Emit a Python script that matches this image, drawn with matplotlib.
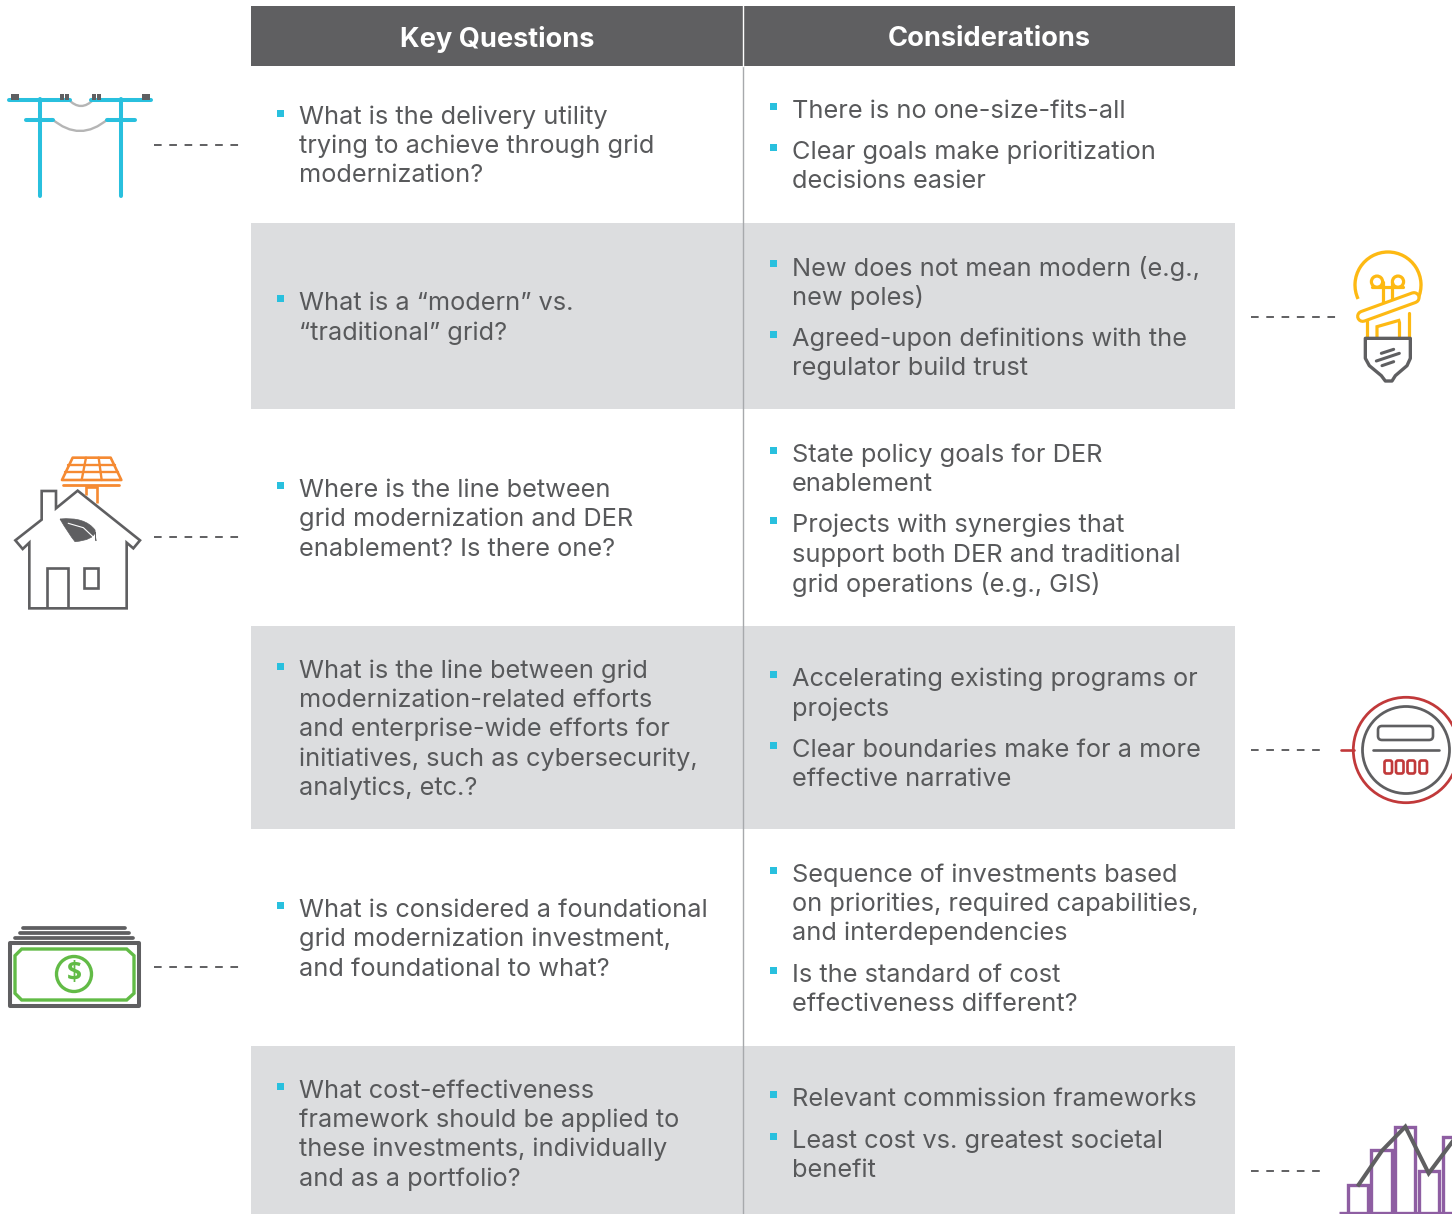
"""Grid modernization questions table, drawn in image pixel coordinates."""
import matplotlib

matplotlib.use("Agg")
import matplotlib.pyplot as plt
from matplotlib.patches import Arc, Circle, FancyBboxPatch, PathPatch, Polygon, Rectangle
from matplotlib.path import Path

plt.rcParams["font.family"] = ["Inter", "DejaVu Sans"]

WIDTH, HEIGHT = 1452, 1214
TEXT = "#58595b"
DARK = "#5f5f61"
BAND = "#dcdddf"
BLUE = "#29c0de"
FONT_SIZE = 18.25

headers = ["Key Questions", "Considerations"]

# (bullet y, [(line y, line text), ...])
key_questions = [
    (113, [(115, "What is the delivery utility"), (144, "trying to achieve through grid"), (173, "modernization?")]),
    (298, [(301, "What is a “modern” vs."), (331, "“traditional” grid?")]),
    (485, [(488, "Where is the line between"), (517, "grid modernization and DER"), (547, "enablement? Is there one?")]),
    (666, [(669, "What is the line between grid"), (698, "modernization-related efforts"),
           (727, "and enterprise-wide efforts for"), (757, "initiatives, such as cybersecurity,"),
           (786, "analytics, etc.?")]),
    (905, [(908, "What is considered a foundational"), (937, "grid modernization investment,"),
           (967, "and foundational to what?")]),
    (1086, [(1089, "What cost-effectiveness"), (1118, "framework should be applied to"),
            (1147, "these investments, individually"), (1177, "and as a portfolio?")]),
]

considerations = [
    (106, [(109, "There is no one-size-fits-all")]),
    (147, [(150, "Clear goals make prioritization"), (179, "decisions easier")]),
    (263, [(266, "New does not mean modern (e.g.,"), (295, "new poles)")]),
    (334, [(337, "Agreed-upon definitions with the"), (366, "regulator build trust")]),
    (450, [(453, "State policy goals for DER"), (482, "enablement")]),
    (520, [(523, "Projects with synergies that"), (553, "support both DER and traditional"),
           (582, "grid operations (e.g., GIS)")]),
    (674, [(677, "Accelerating existing programs or"), (707, "projects")]),
    (745, [(748, "Clear boundaries make for a more"), (777, "effective narrative")]),
    (870, [(873, "Sequence of investments based"), (902, "on priorities, required capabilities,"),
           (931, "and interdependencies")]),
    (970, [(973, "Is the standard of cost"), (1002, "effectiveness different?")]),
    (1094, [(1097, "Relevant commission frameworks")]),
    (1136, [(1139, "Least cost vs. greatest societal"), (1168, "benefit")]),
]

grey_bands = [(223, 409), (626, 829), (1046, 1214)]
left_dashes = [145, 537, 967]
# (y, right end of the dashed run)
right_dashes = [(317, 1336), (750, 1322), (1171, 1325)]


def line(ax, xs, ys, color, lw=2.2, z=4, cap="round"):
    ax.plot(xs, ys, color=color, lw=lw, zorder=z, solid_capstyle=cap, solid_joinstyle="miter")


def zoomed(points, ox, oy):
    return [(ox + x / 3, oy + y / 3) for x, y in points]


def zoomed_line(ax, a, b, ox, oy, color, lw, z=4):
    (x0, y0), (x1, y1) = zoomed([a, b], ox, oy)
    line(ax, [x0, x1], [y0, y1], color, lw, z)


def outline(ax, points, color, lw=2.2, closed=True, z=4, join="miter"):
    ax.add_patch(Polygon(points, closed=closed, fill=False, edgecolor=color, lw=lw, zorder=z, joinstyle=join))


def sag(ax, x0, x1, y, control_y, color, lw):
    path = Path([(x0, y), ((x0 + x1) / 2, control_y), (x1, y)], [Path.MOVETO, Path.CURVE3, Path.CURVE3])
    ax.add_patch(PathPatch(path, fill=False, edgecolor=color, lw=lw, zorder=3, capstyle="round"))


def draw_pole(ax):
    for x0, x1, y in [(9, 70, 99.5), (91, 151, 99.5), (26, 53, 119.5), (107, 135, 119.5)]:
        line(ax, [x0, x1], [y, y], BLUE, 2.9)
    for x in (39.5, 121):
        line(ax, [x, x], [99, 196], BLUE, 2.9)
    for x0, w in [(11, 8), (60, 4), (65, 4), (92, 4), (97, 4), (142, 8)]:
        ax.add_patch(Rectangle((x0, 94), w, 6, color=DARK, lw=0, zorder=5))
    sag(ax, 68, 94, 99, 113, "#b5b5b5", 1.7)
    sag(ax, 52, 108, 119, 143, "#b5b5b5", 1.7)


def draw_house(ax):
    ox, oy = 0, 445
    orange = "#f58a32"
    house = [(88, 490), (88, 293), (68, 312), (46, 286), (125, 224), (125, 138), (168, 138), (168, 190),
             (233, 137), (420, 286), (400, 310), (380, 293), (380, 490)]
    outline(ax, zoomed(house, ox, oy), DARK, 1.9)
    outline(ax, zoomed([(140, 490), (140, 368), (203, 368), (203, 490)], ox, oy), DARK, 1.9, closed=False)
    outline(ax, zoomed([(252, 368), (293, 368), (293, 430), (252, 430)], ox, oy), DARK, 1.9)
    outline(ax, zoomed([(218, 38), (332, 38), (364, 105), (186, 105)], ox, oy), orange, 1.9, join="round")
    for a, b in [((205, 60), (345, 60)), ((195, 82), (355, 82)), ((258, 38), (245, 105)), ((296, 38), (305, 105))]:
        zoomed_line(ax, a, b, ox, oy, orange, 1.7)
    zoomed_line(ax, (190, 120), (358, 120), ox, oy, orange, 2.0)
    outline(ax, zoomed([(258, 150), (258, 125), (290, 125), (290, 175)], ox, oy), orange, 1.9, closed=False)
    verts = zoomed([(180, 222), (255, 215), (285, 255), (288, 288), (285, 262), (280, 285), (225, 290),
                    (205, 265), (180, 222)], ox, oy)
    codes = [Path.MOVETO, Path.CURVE3, Path.CURVE3, Path.LINETO, Path.LINETO, Path.CURVE3, Path.CURVE3,
             Path.CURVE3, Path.CURVE3]
    ax.add_patch(PathPatch(Path(verts, codes), facecolor=DARK, edgecolor=DARK, lw=0.5, zorder=5))
    stem = zoomed([(205, 235), (250, 248), (282, 278)], ox, oy)
    ax.plot(*zip(*stem), color="white", lw=0.8, zorder=6)


def draw_money(ax):
    ox, oy = 0, 915
    green = "#62bb46"
    outline(ax, zoomed([(30, 85), (416, 85), (416, 272), (30, 272)], ox, oy), DARK, 2.9, join="round")
    for y, x0, x1 in [(70, 46, 400), (55, 60, 388), (38, 70, 376)]:
        line(ax, [x0 / 3, x1 / 3], [oy + y / 3, oy + y / 3], DARK, 2.7)
    note = [(65, 102), (380, 102), (402, 122), (402, 235), (380, 255), (65, 255), (45, 235), (45, 122)]
    outline(ax, zoomed(note, ox, oy), green, 2.4)
    ax.add_patch(Circle((74, 974), 17.5, fill=False, edgecolor=green, lw=2.4, zorder=4))
    ax.text(74, 974, "$", color=green, fontsize=19, fontweight="bold", ha="center", va="center",
            family="Open Sans", zorder=5)


def draw_bulb(ax):
    ox, oy = 1332, 245
    yellow = "#fdb913"
    ax.add_patch(Arc((ox + 56, oy + 40), 66, 66, theta1=155, theta2=25, color=yellow, lw=2.4, zorder=3))
    for cx in (135, 198):
        ax.add_patch(Circle((ox + cx / 3, oy + 110 / 3), 5.6, fill=False, edgecolor=yellow, lw=2.3, zorder=3))
    zoomed_line(ax, (120, 125), (212, 125), ox, oy, yellow, 2.3, z=3)
    for a, b in [((152, 112), (152, 175)), ((180, 112), (180, 165)), ((105, 225), (105, 280)),
                 ((232, 205), (232, 280)), ((202, 230), (202, 280))]:
        zoomed_line(ax, a, b, ox, oy, yellow, 2.3, z=3)
    outline(ax, zoomed([(135, 280), (135, 245), (205, 225)], ox, oy), yellow, 2.3, closed=False, z=3)
    a, b = zoomed([(92, 214), (246, 158)], ox, oy)
    line(ax, [a[0], b[0]], [a[1], b[1]], yellow, 9.5, z=4)
    line(ax, [a[0], b[0]], [a[1], b[1]], "white", 5, z=5)
    base = [(100, 280), (235, 280), (235, 340), (225, 362), (190, 392), (180, 408), (160, 408), (148, 392),
            (112, 362), (100, 340)]
    outline(ax, zoomed(base, ox, oy), DARK, 2.4, join="round")
    for a, b in [((148, 325), (185, 313)), ((133, 348), (202, 325)), ((150, 362), (185, 350))]:
        zoomed_line(ax, a, b, ox, oy, DARK, 2.2)


def draw_meter(ax):
    ox, oy = 1332, 690
    red = "#c1393a"
    cx, cy = ox + 222 / 3, oy + 60
    ax.add_patch(Circle((cx, cy), 52.7, fill=False, edgecolor=red, lw=2, zorder=4))
    ax.add_patch(Circle((cx, cy), 43.5, fill=False, edgecolor=DARK, lw=2, zorder=4))
    line(ax, [ox + 9, ox + 21.5], [cy, cy], red, 1.9)
    line(ax, [ox + 41, ox + 106.5], [cy, cy], DARK, 1.9)
    ax.add_patch(FancyBboxPatch((ox + 46, oy + 36), 55, 14, boxstyle="round,pad=0,rounding_size=4",
                                fill=False, edgecolor=DARK, lw=1.9, zorder=4))
    for dx in (52.5, 64, 75.5, 87.5):
        ax.add_patch(FancyBboxPatch((ox + dx, oy + 70.5), 7.5, 13, boxstyle="round,pad=0,rounding_size=2",
                                    fill=False, edgecolor=red, lw=1.9, zorder=4))


def draw_bars(ax):
    ox, oy = 1332, 1114
    purple = "#8e5ea2"
    for x0, x1, top in [(47, 108, 212), (118, 180, 107), (190, 250, 38), (262, 322, 170), (332, 400, 70)]:
        outline(ax, zoomed([(x0, 300), (x0, top), (x1, top), (x1, 300)], ox, oy), purple, 2.4, closed=False, z=3)
    line(ax, [ox + 22 / 3, WIDTH], [oy + 98.5, oy + 98.5], purple, 2.4, z=3, cap="butt")
    ridge = zoomed([(80, 212), (150, 110), (220, 38), (290, 178), (365, 78)], ox, oy)
    ax.plot(*zip(*ridge), color=DARK, lw=2.9, zorder=5, solid_joinstyle="miter")


def draw_column(ax, rows, bullet_x, text_x):
    for bullet_y, lines in rows:
        ax.add_patch(Rectangle((bullet_x - 3.5, bullet_y - 3.5), 7, 7, color=BLUE, lw=0, zorder=4))
        for y, label in lines:
            ax.text(text_x, y, label, color=TEXT, fontsize=FONT_SIZE, ha="left", va="center_baseline", zorder=4)


fig = plt.figure(figsize=(WIDTH / 100, HEIGHT / 100), dpi=100)
ax = fig.add_axes([0, 0, 1, 1])
ax.set_xlim(0, WIDTH)
ax.set_ylim(HEIGHT, 0)
ax.axis("off")

ax.add_patch(Rectangle((251, 6), 984, 60, color=DARK, lw=0, zorder=1))
for top, bottom in grey_bands:
    ax.add_patch(Rectangle((251, top), 984, bottom - top, color=BAND, lw=0, zorder=1))
ax.plot([743, 743], [66, HEIGHT], color="#a7a9ac", lw=1, zorder=2)
ax.plot([743, 743], [6, 66], color="white", lw=1, zorder=2)
for x, label in zip((497, 989), headers):
    ax.text(x, 36.5, label, color="white", fontsize=19.6, fontweight="bold", ha="center", va="center_baseline",
            zorder=3)

draw_column(ax, key_questions, 280, 299)
draw_column(ax, considerations, 773, 792)

for y in left_dashes:
    ax.plot([154, 239], [y, y], color=DARK, lw=1.4, dashes=(3.93, 3.93), zorder=2)
for y, end in right_dashes:
    ax.plot([1251, end], [y, y], color=DARK, lw=1.4, dashes=(3.93, 3.93), zorder=2)

draw_pole(ax)
draw_house(ax)
draw_money(ax)
draw_bulb(ax)
draw_meter(ax)
draw_bars(ax)

fig.savefig("out.png", dpi=100)
